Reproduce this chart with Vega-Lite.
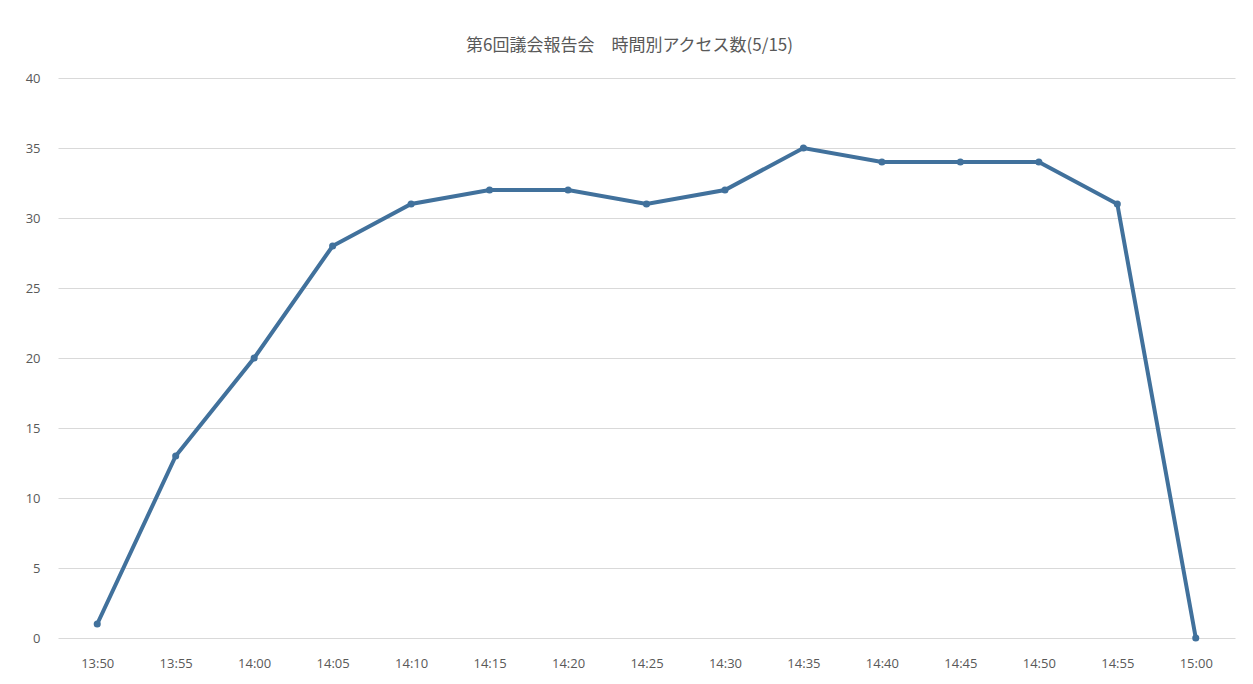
{
  "$schema": "https://vega.github.io/schema/vega-lite/v6.json",
  "width": 1177,
  "height": 560,
  "autosize": {"type": "none"},
  "padding": {"left": 58, "top": 78, "right": 18, "bottom": 46},
  "background": "white",
  "title": {
    "text": "第6回議会報告会　時間別アクセス数(5/15)",
    "font": "Noto Sans CJK JP",
    "fontSize": 17,
    "fontWeight": "normal",
    "color": "#595959",
    "anchor": "middle",
    "dx": -17,
    "offset": 17
  },
  "data": {
    "values": [
      {"time": "13:50", "count": 1},
      {"time": "13:55", "count": 13},
      {"time": "14:00", "count": 20},
      {"time": "14:05", "count": 28},
      {"time": "14:10", "count": 31},
      {"time": "14:15", "count": 32},
      {"time": "14:20", "count": 32},
      {"time": "14:25", "count": 31},
      {"time": "14:30", "count": 32},
      {"time": "14:35", "count": 35},
      {"time": "14:40", "count": 34},
      {"time": "14:45", "count": 34},
      {"time": "14:50", "count": 34},
      {"time": "14:55", "count": 31},
      {"time": "15:00", "count": 0}
    ]
  },
  "mark": {"type": "line", "color": "#41719C", "strokeWidth": 4, "point": {"filled": true, "size": 50, "color": "#41719C"}},
  "encoding": {
    "x": {
      "field": "time", "type": "ordinal", "sort": null,
      "scale": {"type": "point", "padding": 0.5},
      "axis": {"title": null, "labelAngle": 0, "ticks": false, "domain": false, "grid": false, "labelPadding": 19, "labelFont": "Open Sans", "labelFontSize": 13, "labelColor": "#595959"}
    },
    "y": {
      "field": "count", "type": "quantitative",
      "scale": {"domain": [0, 40]},
      "axis": {"title": null, "values": [0,5,10,15,20,25,30,35,40], "ticks": false, "domain": false, "gridColor": "#d9d9d9", "gridWidth": 1, "labelPadding": 18, "labelFont": "Open Sans", "labelFontSize": 13, "labelColor": "#595959"}
    }
  },
  "config": {"view": {"stroke": null}}
}
